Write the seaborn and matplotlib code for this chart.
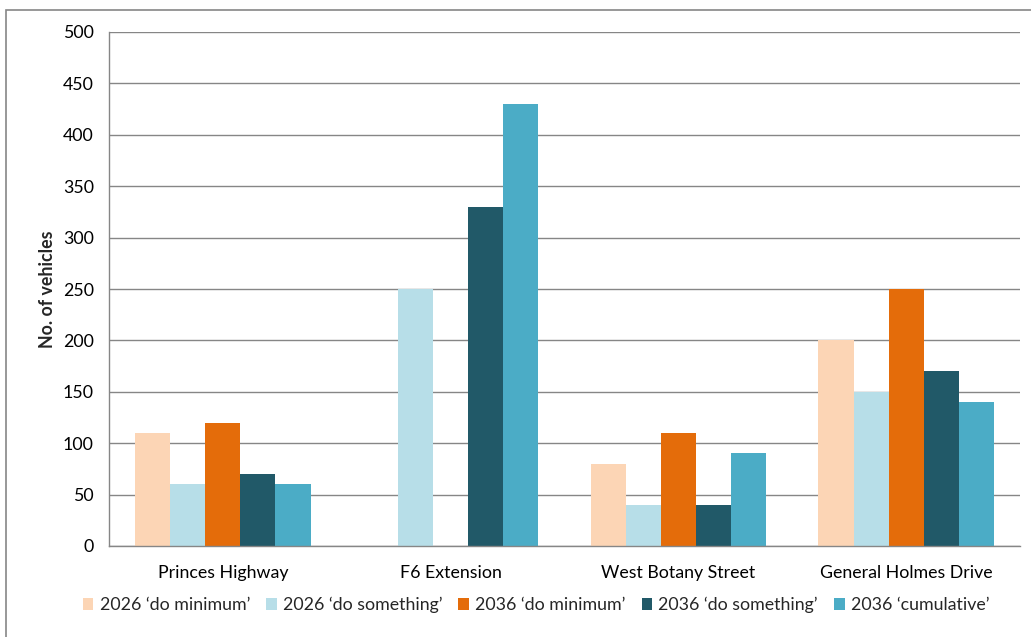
import matplotlib
matplotlib.use("Agg")
import matplotlib.pyplot as plt
import matplotlib.patches as mpatches
import pandas as pd
import seaborn as sns

roads = ["Princes Highway", "F6 Extension", "West Botany Street", "General Holmes Drive"]
scenarios = ["2026 \u2018do minimum\u2019", "2026 \u2018do something\u2019",
             "2036 \u2018do minimum\u2019", "2036 \u2018do something\u2019",
             "2036 \u2018cumulative\u2019"]
do_min_2026 = [110, 0, 80, 200]
do_something_2026 = [60, 250, 40, 150]
do_min_2036 = [120, 0, 110, 250]
do_something_2036 = [70, 330, 40, 170]
cumulative_2036 = [60, 430, 90, 140]
y_ticks = [0, 50, 100, 150, 200, 250, 300, 350, 400, 450, 500]

colors = ["#FCD5B5", "#B7DEE8", "#E46C0A", "#215968", "#4BACC6"]

series = [do_min_2026, do_something_2026, do_min_2036, do_something_2036, cumulative_2036]
rows = []
for name, vals in zip(scenarios, series):
    for road, v in zip(roads, vals):
        rows.append({"road": road, "scenario": name, "vehicles": v})
df = pd.DataFrame(rows)

sns.set_style("white")
plt.rcParams["font.family"] = ["Lato", "DejaVu Sans"]
FS = 12.8

fig = plt.figure(figsize=(10.31, 6.37), dpi=100)
ax = fig.add_axes([109 / 1031, 1 - 546 / 637, (1020 - 109) / 1031, (546 - 32) / 637])

sns.barplot(data=df, x="road", y="vehicles", hue="scenario", order=roads,
            hue_order=scenarios, palette=colors, width=0.77, gap=0,
            saturation=1, edgecolor="none", linewidth=0, ax=ax, legend=False)

ax.set_xlim(-0.5, 3.5)
ax.set_ylim(0, 500)
ax.set_yticks(y_ticks)
ax.set_yticklabels([str(t) for t in y_ticks], fontsize=FS, color="#000000")
ax.set_xticks([0, 1, 2, 3])
ax.set_xticklabels(roads, fontsize=FS, color="#000000")
ax.set_xticks([-0.5, 0.5, 1.5, 2.5, 3.5], minor=True)
ax.tick_params(axis="x", which="major", length=0, pad=14)
ax.tick_params(axis="x", which="minor", length=5, color="#868686", width=1)
ax.tick_params(axis="y", length=6, color="#868686", width=1, pad=5)
ax.set_xlabel("")
ax.set_ylabel("No. of vehicles", fontsize=FS, fontweight="bold", labelpad=5)

ax.yaxis.grid(True, color="#868686", linewidth=1)
ax.set_axisbelow(True)
for side in ["top", "right"]:
    ax.spines[side].set_visible(False)
for side in ["left", "bottom"]:
    ax.spines[side].set_color("#868686")
    ax.spines[side].set_linewidth(1)

handles = [mpatches.Patch(facecolor=c, edgecolor="none", label=s)
           for c, s in zip(colors, scenarios)]
fig.legend(handles=handles, loc="center", bbox_to_anchor=(536 / 1031, 1 - 605 / 637),
           ncol=5, frameon=False, fontsize=FS, handlelength=0.6, handleheight=0.6,
           handletextpad=0.35, columnspacing=0.9)

# outer chart frame
fig.add_artist(mpatches.Rectangle((6 / 1031, -0.05), 1.1, 1 - 10 / 637 + 0.05,
                                  transform=fig.transFigure, fill=False,
                                  edgecolor="#868686", linewidth=1.2))

fig.savefig("out.png", dpi=100)
